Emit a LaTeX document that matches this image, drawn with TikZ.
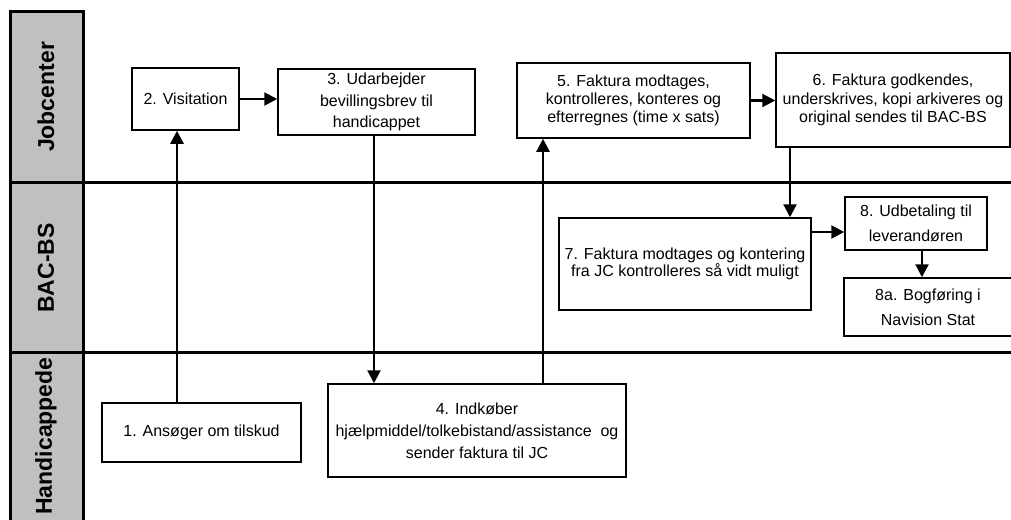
\documentclass[tikz,border=0pt]{standalone}
\usepackage{fontspec}
\setmainfont{Liberation Sans}
\usetikzlibrary{arrows.meta}
\definecolor{lanegray}{HTML}{C0C0C0}
\begin{document}
\begin{tikzpicture}[x=1pt,y=-1pt,
  box/.style={draw,line width=1.5pt,fill=white,inner sep=0pt,align=center,font=\fontsize{16}{18}\selectfont},
  conn/.style={line width=2.2pt},
  arr/.style={conn,-{Triangle[length=13pt,width=13pt]}},
  laneline/.style={line width=3pt},
  lanelabel/.style={rotate=90,inner sep=0pt,font=\fontsize{23}{26}\selectfont\bfseries}]
\useasboundingbox (0,0) rectangle (1011,519);
% lane header
\draw[laneline,fill=lanegray] (10,12) rectangle (83,540);
\draw[laneline] (10,182) -- (1020,182);
\draw[laneline] (10,352) -- (1020,352);
\node[lanelabel] (l1) at (46,97) {Jobcenter};
\node[lanelabel] (l2) at (46,268) {BAC-BS};
\node[lanelabel] (l3) at (46,436) {Handicappede};
% nodes
\node[box,minimum width=199,minimum height=59] (n1) at (201.5,432.5) {1. Ansøger om tilskud};
\node[box,minimum width=107,minimum height=62] (n2) at (185.5,99) {2. Visitation};
\node[box,minimum width=197,minimum height=66,font=\fontsize{16}{21.5}\selectfont] (n3) at (376.5,102) {3. Udarbejder\\bevillingsbrev til\\handicappet};
\node[box,minimum width=298,minimum height=93,font=\fontsize{16}{22}\selectfont] (n4) at (477,430.5) {4. Indkøber\\hjælpmiddel/tolkebistand/assistance\ \ og\\sender faktura til JC};
\node[box,minimum width=233,minimum height=75,font=\fontsize{16}{18.3}\selectfont] (n5) at (633.5,100.5) {5. Faktura modtages,\\kontrolleres, konteres og\\efterregnes (time x sats)};
\node[box,minimum width=234,minimum height=94,font=\fontsize{16}{18.5}\selectfont] (n6) at (893,100) {6. Faktura godkendes,\\underskrives, kopi arkiveres og\\original sendes til BAC-BS};
\node[box,minimum width=252,minimum height=92,font=\fontsize{16}{16.5}\selectfont] (n7) at (685,264) {7. Faktura modtages og kontering\\fra JC kontrolleres så vidt muligt};
\node[box,minimum width=142,minimum height=53,font=\fontsize{16}{25}\selectfont] (n8) at (916,223.5) {8. Udbetaling til\\leverandøren};
\node[box,minimum width=168,minimum height=58,font=\fontsize{16}{25}\selectfont] (n8a) at (928,307) {8a. Bogføring i\\Navision Stat};
% connectors
\coordinate (c12) at (177,0);
\coordinate (c34) at (374,0);
\coordinate (c45) at (543,0);
\coordinate (c67) at (790,0);
\coordinate (c78) at (0,232);
\coordinate (c88) at (922,0);
\draw[arr] (n1.north -| c12) -- (n2.south -| c12);
\draw[arr] (n2.east) -- (n3.west |- n2.east);
\draw[arr] (n3.south -| c34) -- (n4.north -| c34);
\draw[arr] (n4.north -| c45) -- (n5.south -| c45);
\draw[arr] (n5.east) -- (n6.west |- n5.east);
\draw[arr] (n6.south -| c67) -- (n7.north -| c67);
\draw[arr] (n7.east |- c78) -- (n8.west |- c78);
\draw[arr] (n8.south -| c88) -- (n8a.north -| c88);
\end{tikzpicture}
\end{document}
